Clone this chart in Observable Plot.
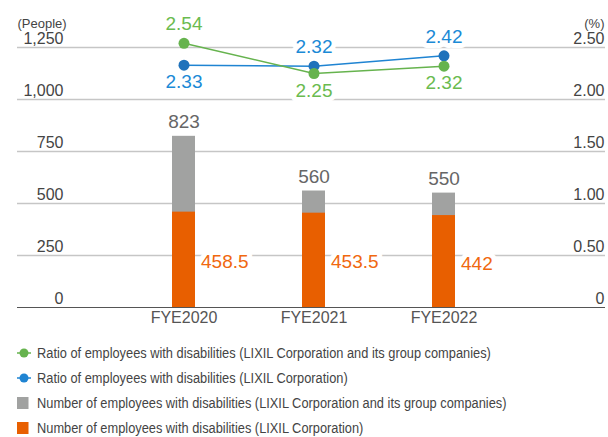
<!DOCTYPE html>
<html><head><meta charset="utf-8">
<script src="https://cdn.jsdelivr.net/npm/d3@7"></script>
<script src="https://cdn.jsdelivr.net/npm/@observablehq/plot@0.6"></script>
<style>
body{margin:0;background:#fff;font-family:"Liberation Sans",Arial,sans-serif;}
#chart svg{display:block;}
#legend{padding:5px 0 0 17px;font-family:"Liberation Sans",Arial,sans-serif;font-size:14px;color:#444;}
.row{height:25px;display:flex;align-items:center;white-space:nowrap;}
.row span{display:inline-block;transform:scaleX(0.915);transform-origin:left center;}
.mk{width:14px;height:12px;margin-right:6px;flex:none;display:flex;align-items:center;}
</style></head><body><div id="chart"></div><div id="legend"></div>
<script>
const years = ["FYE2020", "FYE2021", "FYE2022"];
const totalCount = [823, 560, 550];
const lixilCount = [458.5, 453.5, 442];
const ratioGroup = [2.54, 2.25, 2.32];
const ratioLixil = [2.33, 2.32, 2.42];
const leftTicks = [0, 250, 500, 750, 1000, 1250];
const rightTicks = [0, 0.5, 1.0, 1.5, 2.0, 2.5];
const legendLabels = [
  "Ratio of employees with disabilities (LIXIL Corporation and its group companies)",
  "Ratio of employees with disabilities (LIXIL Corporation)",
  "Number of employees with disabilities (LIXIL Corporation and its group companies)",
  "Number of employees with disabilities (LIXIL Corporation)"
];
const ratioScale = 500; // 2.50% aligned with 1,250 people

const green = "#66b34e", greenText = "#6abb4f";
const blue = "#1f72bb", blueLine = "#1f84d2", blueText = "#1b8ad6";
const gray = "#a1a2a1", orange = "#e85f00", orangeText = "#f0680f";

const rows = years.map((y, i) => ({year: y, total: totalCount[i], lixil: lixilCount[i], rg: ratioGroup[i], rl: ratioLixil[i]}));
const ratioPts = [];
rows.forEach(r => {
  const gAbove = r.rg >= r.rl;
  ratioPts.push({year: r.year, v: r.rg, color: greenText, above: gAbove});
  ratioPts.push({year: r.year, v: r.rl, color: blueText, above: !gAbove});
});

const halo = {stroke: "white", strokeWidth: 10, paintOrder: "stroke", strokeLinejoin: "round"};
const ratioText = (above) => Plot.text(ratioPts.filter(d => d.above === above), {
  x: "year", y: d => d.v * ratioScale, text: d => d3.format(".2f")(d.v),
  dy: above ? -19 : 17, fontSize: 19, fill: d => d.color, ...halo
});

const chart = Plot.plot({
  width: 608, height: 335,
  marginLeft: 17, marginRight: 3, marginTop: 47, marginBottom: 28,
  x: {domain: years, paddingInner: 0.8215, paddingOuter: 1.1636, align: 0.509, axis: null},
  y: {domain: [0, 1250], axis: null},
  style: {fontFamily: "'Liberation Sans', Arial, sans-serif", background: "white"},
  marks: [
    Plot.ruleY(leftTicks.filter(d => d > 0), {stroke: "#c6c6c6", strokeWidth: 1.3}),
    Plot.ruleY([0], {stroke: "#555", strokeWidth: 1.2}),
    Plot.text(leftTicks, {y: d => d, text: d => d3.format(",")(d), frameAnchor: "left", dx: 46, textAnchor: "end", dy: -9, fontSize: 16, fill: "#444"}),
    Plot.text(rightTicks, {y: d => d * ratioScale, text: d => d === 0 ? "0" : d3.format(".2f")(d), frameAnchor: "right", dx: -1, textAnchor: "end", dy: -9, fontSize: 16, fill: "#444"}),
    Plot.text(["(People)"], {frameAnchor: "top-left", dy: -29, fontSize: 13, fill: "#444", textAnchor: "start"}),
    Plot.text(["(%)"], {frameAnchor: "top-right", dx: -1, dy: -29, fontSize: 13, fill: "#444", textAnchor: "end"}),
    Plot.text(rows, {x: "year", text: "year", frameAnchor: "bottom", dy: 15, fontSize: 16, fill: "#555"}),
    Plot.text(rows, {x: "year", y: "total", text: d => String(d.total), dy: -14, fontSize: 19, fill: "#666", ...halo}),
    Plot.text(rows, {x: "year", y: d => d.lixil / 2, text: d => String(d.lixil), dx: 17, textAnchor: "start", dy: 2, fontSize: 19, fill: orangeText, ...halo}),
    ratioText(true),
    ratioText(false),
    Plot.barY(rows, {x: "year", y: "total", fill: gray}),
    Plot.barY(rows, {x: "year", y: "lixil", fill: orange}),
    Plot.line(rows, {x: "year", y: d => d.rl * ratioScale, stroke: blueLine, strokeWidth: 1.5}),
    Plot.line(rows, {x: "year", y: d => d.rg * ratioScale, stroke: green, strokeWidth: 1.5}),
    Plot.dot(rows, {x: "year", y: d => d.rl * ratioScale, r: 5.5, fill: blue}),
    Plot.dot(rows, {x: "year", y: d => d.rg * ratioScale, r: 5.5, fill: green})
  ]
});
document.getElementById("chart").append(chart);

const legendColors = [green, blueLine, gray, orange];
const legend = document.getElementById("legend");
legendLabels.forEach((lab, i) => {
  const row = document.createElement("div");
  row.className = "row";
  const mk = document.createElement("div");
  mk.className = "mk";
  if (i < 2) {
    mk.innerHTML = `<svg width="14" height="12"><line x1="0" x2="14" y1="6" y2="6" stroke="${legendColors[i]}" stroke-width="1.5"/><circle cx="7" cy="6" r="4.5" fill="${legendColors[i]}"/></svg>`;
  } else {
    mk.innerHTML = `<svg width="14" height="12"><rect x="0" y="0" width="11.5" height="12" fill="${legendColors[i]}"/></svg>`;
  }
  const t = document.createElement("span");
  t.textContent = lab;
  row.append(mk, t);
  legend.append(row);
});
</script>
</body></html>
